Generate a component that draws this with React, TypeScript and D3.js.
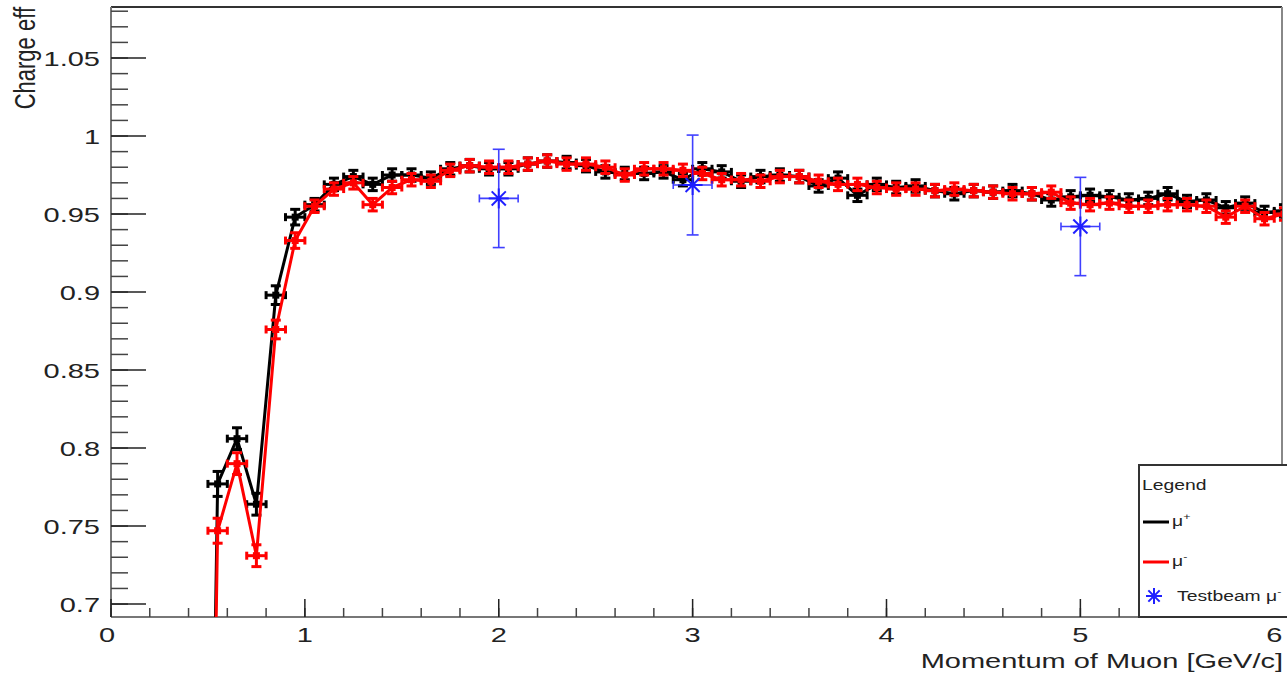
import React from "react";
import { scaleLinear, line, range } from "d3";

// bin centres of the momentum histogram (GeV/c)
const momentum = [
  0.45, 0.55, 0.65, 0.75, 0.85, 0.95, 1.05, 1.15, 1.25, 1.35, 1.45, 1.55, 1.65, 1.75, 1.85, 1.95,
  2.05, 2.15, 2.25, 2.35, 2.45, 2.55, 2.65, 2.75, 2.85, 2.95, 3.05, 3.15, 3.25, 3.35, 3.45, 3.55,
  3.65, 3.75, 3.85, 3.95, 4.05, 4.15, 4.25, 4.35, 4.45, 4.55, 4.65, 4.75, 4.85, 4.95, 5.05, 5.15,
  5.25, 5.35, 5.45, 5.55, 5.65, 5.75, 5.85, 5.95, 6.05,
];

// mu+ (black)
const effPlus = [
  0.0, 0.777, 0.806, 0.764, 0.898, 0.948, 0.956, 0.969, 0.974, 0.969, 0.975, 0.975, 0.973, 0.979, 0.981, 0.979,
  0.979, 0.982, 0.984, 0.983, 0.981, 0.977, 0.976, 0.976, 0.977, 0.972, 0.979, 0.977, 0.971, 0.974, 0.975, 0.974,
  0.968, 0.973, 0.962, 0.969, 0.967, 0.968, 0.965, 0.963, 0.965, 0.964, 0.965, 0.963, 0.959, 0.961, 0.962, 0.961,
  0.959, 0.96, 0.963, 0.958, 0.959, 0.954, 0.957, 0.951, 0.952,
];

// mu- (red)
const effMinus = [
  0.0, 0.747, 0.79, 0.731, 0.876, 0.933, 0.955, 0.966, 0.97, 0.956, 0.967, 0.972, 0.971, 0.978, 0.981, 0.98,
  0.98, 0.982, 0.984, 0.982, 0.982, 0.98, 0.975, 0.979, 0.979, 0.978, 0.976, 0.972, 0.972, 0.971, 0.974, 0.974,
  0.971, 0.969, 0.969, 0.967, 0.966, 0.966, 0.965, 0.966, 0.965, 0.964, 0.963, 0.963, 0.964, 0.957, 0.956, 0.957,
  0.955, 0.955, 0.956, 0.956, 0.955, 0.948, 0.955, 0.947, 0.95,
];

const statErr = [
  0.01, 0.008, 0.007, 0.007, 0.006, 0.005, 0.004, 0.004, 0.004, 0.004, 0.004, 0.004, 0.004, 0.004, 0.004, 0.004,
  0.004, 0.004, 0.004, 0.004, 0.004, 0.004, 0.004, 0.004, 0.004, 0.004, 0.004, 0.004, 0.004, 0.004, 0.004, 0.004,
  0.004, 0.004, 0.004, 0.004, 0.004, 0.004, 0.004, 0.004, 0.004, 0.004, 0.004, 0.004, 0.004, 0.004, 0.004, 0.004,
  0.004, 0.004, 0.004, 0.004, 0.004, 0.004, 0.004, 0.004, 0.004,
];
const binHalfWidth = 0.05;

// testbeam mu-
const beamMomentum = [2, 3, 5];
const beamEff = [0.96, 0.9686, 0.942];
const beamErr = [0.0315, 0.032, 0.0315];
const beamHalfWidth = 0.1;

const xTicks = [0, 1, 2, 3, 4, 5, 6];
const xTickLabels = ["0", "1", "2", "3", "4", "5", "6"];
const yTicks = [0.7, 0.75, 0.8, 0.85, 0.9, 0.95, 1, 1.05];
const yTickLabels = ["0.7", "0.75", "0.8", "0.85", "0.9", "0.95", "1", "1.05"];

const W = 1287;
const H = 675;
const left = 111, right = 1282, top = 7, bottom = 617;
const STRETCH = 1.38;
const FONT = "'Liberation Sans', Arial, sans-serif";

const x = scaleLinear().domain([0, 6.04]).range([left, right]);
const y = scaleLinear().domain([0.6917, 1.0827]).range([bottom, top]);

function Series({ values, color }: { values: number[]; color: string }) {
  const path = line<number>()
    .x((_, i) => x(momentum[i]))
    .y((d) => y(d))(values);
  return (
    <g clipPath="url(#plotClip)">
      <path d={path || ""} fill="none" stroke={color} strokeWidth={3} strokeLinejoin="round" />
      {values.map((v, i) => {
        const cx = x(momentum[i]);
        const cy = y(v);
        const x0 = x(momentum[i] - binHalfWidth);
        const x1 = x(momentum[i] + binHalfWidth);
        const y0 = y(v - statErr[i]);
        const y1 = y(v + statErr[i]);
        return (
          <g key={i} stroke={color} strokeWidth={3}>
            <line x1={x0} x2={x1} y1={cy} y2={cy} />
            <line x1={cx} x2={cx} y1={y0} y2={y1} />
            <line x1={x0} x2={x0} y1={cy - 4} y2={cy + 4} />
            <line x1={x1} x2={x1} y1={cy - 4} y2={cy + 4} />
            <line x1={cx - 5} x2={cx + 5} y1={y0} y2={y0} />
            <line x1={cx - 5} x2={cx + 5} y1={y1} y2={y1} />
            <rect x={cx - 3.5} y={cy - 3.5} width={7} height={7} fill={color} stroke="none" />
          </g>
        );
      })}
    </g>
  );
}

function Star({ cx, cy, r, color }: { cx: number; cy: number; r: number; color: string }) {
  const d = r * Math.SQRT1_2;
  return (
    <g stroke={color} strokeWidth={2}>
      <line x1={cx - r} x2={cx + r} y1={cy} y2={cy} />
      <line x1={cx} x2={cx} y1={cy - r} y2={cy + r} />
      <line x1={cx - d} x2={cx + d} y1={cy - d} y2={cy + d} />
      <line x1={cx - d} x2={cx + d} y1={cy + d} y2={cy - d} />
      <circle cx={cx} cy={cy} r={2.5} fill={color} stroke="none" />
    </g>
  );
}

function SText({ tx, ty, anchor, size, children, fill = "#222" }: any) {
  return (
    <g transform={`translate(${tx},${ty}) scale(${STRETCH},1)`}>
      <text textAnchor={anchor} fontSize={size} fontFamily={FONT} fill={fill}>
        {children}
      </text>
    </g>
  );
}

export default function App() {
  const yMinor = range(0.7, 1.0827, 0.01);
  const xMinor = range(0, 6.001, 0.2);
  const blue = "#1f1fff";

  return (
    <svg width={W} height={H} style={{ position: "absolute", left: 0, top: 0, background: "#fff" }}>
      <defs>
        <clipPath id="plotClip">
          <rect x={left} y={top} width={right - left} height={bottom - top} />
        </clipPath>
      </defs>
      <rect width={W} height={H} fill="#fff" />

      {/* frame */}
      <line x1={left} x2={right} y1={top} y2={top} stroke="#333" strokeWidth={2} />
      <line x1={right} x2={right} y1={top} y2={bottom} stroke="#888" strokeWidth={2} />

      {/* y axis */}
      <line x1={left} x2={left} y1={top} y2={bottom} stroke="#777" strokeWidth={2} />
      {yMinor.map((v, i) => (
        <line key={i} x1={left} x2={left + 17} y1={y(v)} y2={y(v)} stroke="#444" strokeWidth={1.5} />
      ))}
      {yTicks.map((v, i) => (
        <g key={i}>
          <line x1={left} x2={left + 35} y1={y(v)} y2={y(v)} stroke="#222" strokeWidth={1.5} />
          <SText tx={100} ty={y(v) + 7.5} anchor="end" size={21}>
            {yTickLabels[i]}
          </SText>
        </g>
      ))}
      <g transform={`translate(35,7) rotate(-90) scale(1,${STRETCH})`}>
        <text textAnchor="end" fontSize={22} fontFamily={FONT} fill="#222">
          Charge eff
        </text>
      </g>

      {/* x axis */}
      <line x1={left} x2={right} y1={bottom} y2={bottom} stroke="#777" strokeWidth={2} />
      {xMinor.map((v, i) => (
        <line key={i} x1={x(v)} x2={x(v)} y1={bottom} y2={bottom - 9} stroke="#444" strokeWidth={1.5} />
      ))}
      {xTicks.map((v, i) => (
        <g key={i}>
          <line x1={x(v)} x2={x(v)} y1={bottom} y2={bottom - 18} stroke="#222" strokeWidth={1.5} />
          <SText tx={x(v) - (i === 0 ? 4 : 0)} ty={642} anchor="middle" size={21}>
            {xTickLabels[i]}
          </SText>
        </g>
      ))}
      <SText tx={1283} ty={668} anchor="end" size={21}>
        Momentum of Muon [GeV/c]
      </SText>

      {/* data */}
      <Series values={effPlus} color="#000" />
      <Series values={effMinus} color="#ff0000" />

      {beamMomentum.map((m, i) => {
        const cx = x(m);
        const cy = y(beamEff[i]);
        const x0 = x(m - beamHalfWidth);
        const x1 = x(m + beamHalfWidth);
        const y0 = y(beamEff[i] - beamErr[i]);
        const y1 = y(beamEff[i] + beamErr[i]);
        return (
          <g key={i}>
            <g stroke={blue} strokeWidth={1.6} opacity={0.85}>
              <line x1={x0} x2={x1} y1={cy} y2={cy} />
              <line x1={cx} x2={cx} y1={y0} y2={y1} />
              <line x1={x0} x2={x0} y1={cy - 4} y2={cy + 4} />
              <line x1={x1} x2={x1} y1={cy - 4} y2={cy + 4} />
              <line x1={cx - 6} x2={cx + 6} y1={y0} y2={y0} />
              <line x1={cx - 6} x2={cx + 6} y1={y1} y2={y1} />
            </g>
            <Star cx={cx} cy={cy} r={10} color={blue} />
          </g>
        );
      })}

      {/* legend */}
      <rect x={1139} y={465} width={160} height={bottom - 465} fill="#fff" stroke="#333" strokeWidth={2} />
      <SText tx={1142} ty={490} anchor="start" size={14}>
        Legend
      </SText>
      <line x1={1143} x2={1169} y1={522} y2={522} stroke="#000" strokeWidth={3} />
      <SText tx={1172} ty={526} anchor="start" size={14}>
        μ<tspan fontSize={9} dy={-6}>+</tspan>
      </SText>
      <line x1={1143} x2={1169} y1={562} y2={562} stroke="#ff0000" strokeWidth={3} />
      <SText tx={1172} ty={566} anchor="start" size={14}>
        μ<tspan fontSize={9} dy={-6}>-</tspan>
      </SText>
      <Star cx={1154} cy={596} r={8} color={blue} />
      <SText tx={1177} ty={601} anchor="start" size={14}>
        Testbeam μ<tspan fontSize={9} dy={-6}>-</tspan>
      </SText>
    </svg>
  );
}
